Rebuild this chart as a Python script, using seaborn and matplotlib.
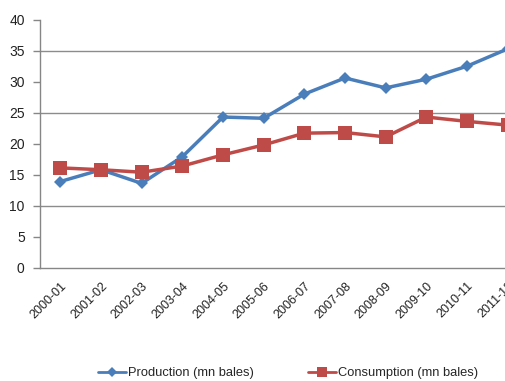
import matplotlib
matplotlib.use("Agg")
import matplotlib.pyplot as plt
import seaborn as sns
import pandas as pd
import numpy as np

seasons = ["2000-01", "2001-02", "2002-03", "2003-04", "2004-05", "2005-06",
           "2006-07", "2007-08", "2008-09", "2009-10", "2010-11", "2011-12"]
production = [13.9, 15.8, 13.6, 17.9, 24.3, 24.1, 28.0, 30.6, 29.0, 30.4, 32.5, 35.3]
consumption = [16.1, 15.8, 15.4, 16.4, 18.2, 19.8, 21.7, 21.8, 21.1, 24.3, 23.6, 23.0]
series_names = ["Production (mn bales)", "Consumption (mn bales)"]
y_ticks = [0, 5, 10, 15, 20, 25, 30, 35, 40]
grid_levels = [10, 25, 35]

sns.set_style("white")
plt.rcParams["font.family"] = ["Liberation Sans", "DejaVu Sans"]

pos = np.arange(len(seasons))
df = pd.DataFrame({
    "pos": np.concatenate([pos, pos]),
    "value": production + consumption,
    "series": [series_names[0]] * len(seasons) + [series_names[1]] * len(seasons),
})

fig = plt.figure(figsize=(5.06, 3.81), dpi=100)
ax = fig.add_axes([40 / 506, 1 - 267.7 / 381, 488 / 506, 248 / 381])

palette = {series_names[0]: "#4A7EBB", series_names[1]: "#BE4B48"}
markers = {series_names[0]: "D", series_names[1]: "s"}
sns.lineplot(data=df, x="pos", y="value", hue="series", style="series",
             palette=palette, markers=markers, dashes=False, linewidth=2.5,
             markersize=7, markeredgewidth=0, ax=ax, legend=False)
# larger square markers for consumption
for line, ms in zip(ax.get_lines(), [6.5, 9.5]):
    line.set_markersize(ms)

for g in grid_levels:
    ax.axhline(g, color="#8c8c8c", linewidth=1.0, zorder=0)

ax.set_xlim(-0.5, len(seasons) - 0.5)
ax.set_ylim(0, 40)
ax.set_yticks(y_ticks)
ax.set_yticklabels([str(t) for t in y_ticks], fontsize=10, color="#222222")
ax.set_xticks(pos)
ax.set_xticklabels(seasons, rotation=45, ha="right", rotation_mode="anchor",
                   fontsize=9, color="#222222")
ax.set_xticks(np.arange(-0.5, len(seasons)), minor=True)
ax.tick_params(axis="x", which="major", length=0, pad=9)
ax.tick_params(axis="x", which="minor", length=5, color="#868686", width=1)
ax.tick_params(axis="y", which="major", length=5, color="#868686", width=1, left=True, pad=6)
ax.set_xlabel("")
ax.set_ylabel("")

for side in ["top", "right"]:
    ax.spines[side].set_visible(False)
for side in ["left", "bottom"]:
    ax.spines[side].set_color("#868686")
    ax.spines[side].set_linewidth(1.0)

handles = [
    plt.Line2D([], [], color="#4A7EBB", marker="D", markersize=5, linewidth=2, markeredgewidth=0),
    plt.Line2D([], [], color="#BE4B48", marker="s", markersize=7, linewidth=2, markeredgewidth=0),
]
fig.legend(handles, series_names, loc="center", bbox_to_anchor=(288 / 506, 1 - 373 / 381),
           ncol=2, frameon=False, fontsize=9.3, handlelength=2.2, handletextpad=0.15,
           columnspacing=4.2, borderpad=0, borderaxespad=0)

fig.savefig("out.png", dpi=100)
